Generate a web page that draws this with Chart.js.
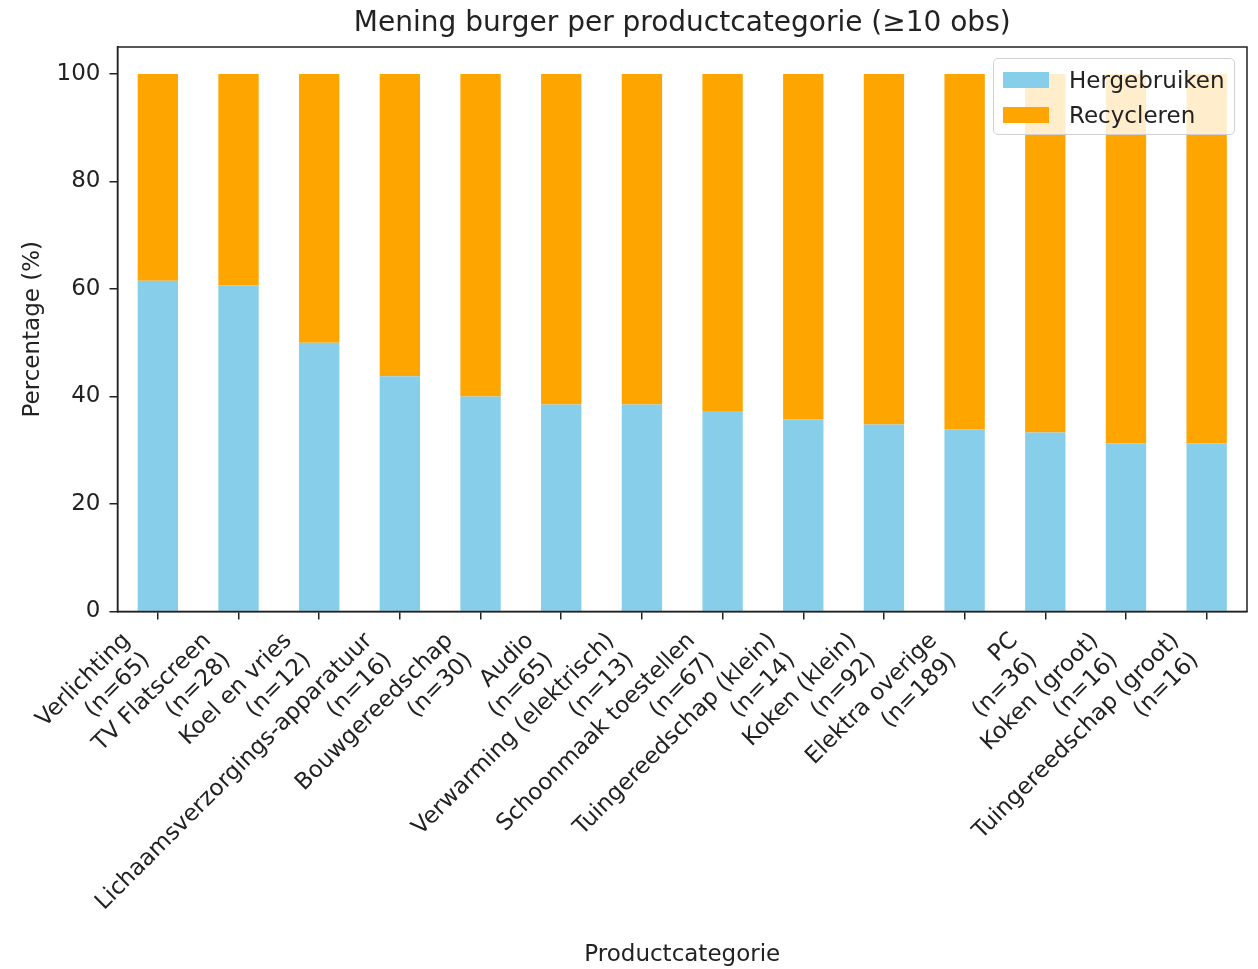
<!DOCTYPE html>
<html>
<head>
<meta charset="utf-8">
<script src="https://cdn.jsdelivr.net/npm/chart.js@4.4.1/dist/chart.umd.min.js"></script>
<style>
  html, body { margin: 0; padding: 0; background: #fff; }
  #wrap { position: relative; width: 1258px; height: 969px; }
  #legend {
    position: absolute; left: 993px; top: 58px; width: 242px; height: 77px;
    box-sizing: border-box; background: rgba(255,255,255,0.8);
    border: 1px solid #d0d0d0; border-radius: 5px;
    font-family: "DejaVu Sans", sans-serif; font-size: 23px; color: #222;
  }
  .item { position: absolute; left: 9px; height: 30px; display: flex; align-items: center; }
  .sw { width: 46px; height: 16px; margin-right: 20px; }
</style>
</head>
<body>
<div id="wrap">
  <canvas id="c" width="1258" height="969"></canvas>
  <div id="legend"></div>
</div>
<script>
const categories = [
  ["Verlichting", "(n=65)"],
  ["TV Flatscreen", "(n=28)"],
  ["Koel en vries", "(n=12)"],
  ["Lichaamsverzorgings-apparatuur", "(n=16)"],
  ["Bouwgereedschap", "(n=30)"],
  ["Audio", "(n=65)"],
  ["Verwarming (elektrisch)", "(n=13)"],
  ["Schoonmaak toestellen", "(n=67)"],
  ["Tuingereedschap (klein)", "(n=14)"],
  ["Koken (klein)", "(n=92)"],
  ["Elektra overige", "(n=189)"],
  ["PC", "(n=36)"],
  ["Koken (groot)", "(n=16)"],
  ["Tuingereedschap (groot)", "(n=16)"]
];
const hergebruiken = [61.5, 60.7, 50.0, 43.75, 40.0, 38.5, 38.5, 37.3, 35.7, 34.8, 33.9, 33.3, 31.25, 31.25];
const recycleren = [38.5, 39.3, 50.0, 56.25, 60.0, 61.5, 61.5, 62.7, 64.3, 65.2, 66.1, 66.7, 68.75, 68.75];
const yTicks = [0, 20, 40, 60, 80, 100];
const seriesNames = ["Hergebruiken", "Recycleren"];
const seriesColors = ["#87CEEB", "#FFA500"];
const titleText = "Mening burger per productcategorie (≥10 obs)";
const xTitle = "Productcategorie";
const yTitle = "Percentage (%)";

const FONT = "'DejaVu Sans', sans-serif";
const TXT = "#222222";

// frame around the plot area + title centred over the plot area (as matplotlib does)
const frame = {
  id: 'frame',
  afterDraw(chart) {
    const a = chart.chartArea, ctx = chart.ctx;
    ctx.save();
    ctx.strokeStyle = '#222';
    ctx.lineWidth = 1.5;
    ctx.strokeRect(a.left, a.top, a.right - a.left, a.bottom - a.top);
    ctx.fillStyle = TXT;
    ctx.font = "28px " + FONT;
    ctx.textAlign = 'center';
    ctx.textBaseline = 'middle';
    ctx.fillText(titleText, (a.left + a.right) / 2, 24);
    ctx.restore();
  }
};

const chart = new Chart(document.getElementById('c'), {
  type: 'bar',
  data: {
    labels: categories,
    datasets: [
      { label: seriesNames[0], data: hergebruiken, backgroundColor: seriesColors[0] },
      { label: seriesNames[1], data: recycleren, backgroundColor: seriesColors[1] }
    ]
  },
  options: {
    responsive: false,
    animation: false,
    devicePixelRatio: 1,
    categoryPercentage: 1.0,
    barPercentage: 0.5,
    layout: { padding: { left: 19, right: 11, top: 47, bottom: 0 } },
    plugins: {
      legend: { display: false },
      tooltip: { enabled: false },
      title: { display: false }
    },
    scales: {
      x: {
        stacked: true,
        offset: true,
        grid: { display: true, drawOnChartArea: false, drawTicks: true, tickLength: 8, offset: false, color: '#222', lineWidth: 1.5 },
        border: { display: true, color: '#222', width: 1.5 },
        ticks: {
          autoSkip: false, maxRotation: 45, minRotation: 45, padding: 8, labelOffset: -31,
          color: TXT, font: { family: FONT, size: 23 }
        },
        title: { display: true, text: xTitle, color: TXT, font: { family: FONT, size: 23, lineHeight: 1 }, padding: { top: 0, bottom: 2.5 } }
      },
      y: {
        stacked: true,
        min: 0, max: 105,
        bounds: 'data',
        afterBuildTicks: (s) => { s.ticks = yTicks.map(v => ({ value: v })); },
        grid: { display: true, drawOnChartArea: false, drawTicks: true, tickLength: 8, color: '#222', lineWidth: 1.5 },
        border: { display: true, color: '#222', width: 1.5 },
        ticks: { padding: 9, color: TXT, font: { family: FONT, size: 23 } },
        title: { display: true, text: yTitle, color: TXT, font: { family: FONT, size: 23 }, padding: { top: 0, bottom: 1 } }
      }
    }
  },
  plugins: [frame]
});

// HTML legend built from the chart's datasets
const leg = document.getElementById('legend');
chart.data.datasets.forEach((ds, i) => {
  const it = document.createElement('div');
  it.className = 'item';
  it.style.top = (6 + i * 35) + 'px';
  const sw = document.createElement('span');
  sw.className = 'sw';
  sw.style.background = ds.backgroundColor;
  const tx = document.createElement('span');
  tx.textContent = ds.label;
  it.appendChild(sw); it.appendChild(tx);
  leg.appendChild(it);
});
</script>
</body>
</html>
